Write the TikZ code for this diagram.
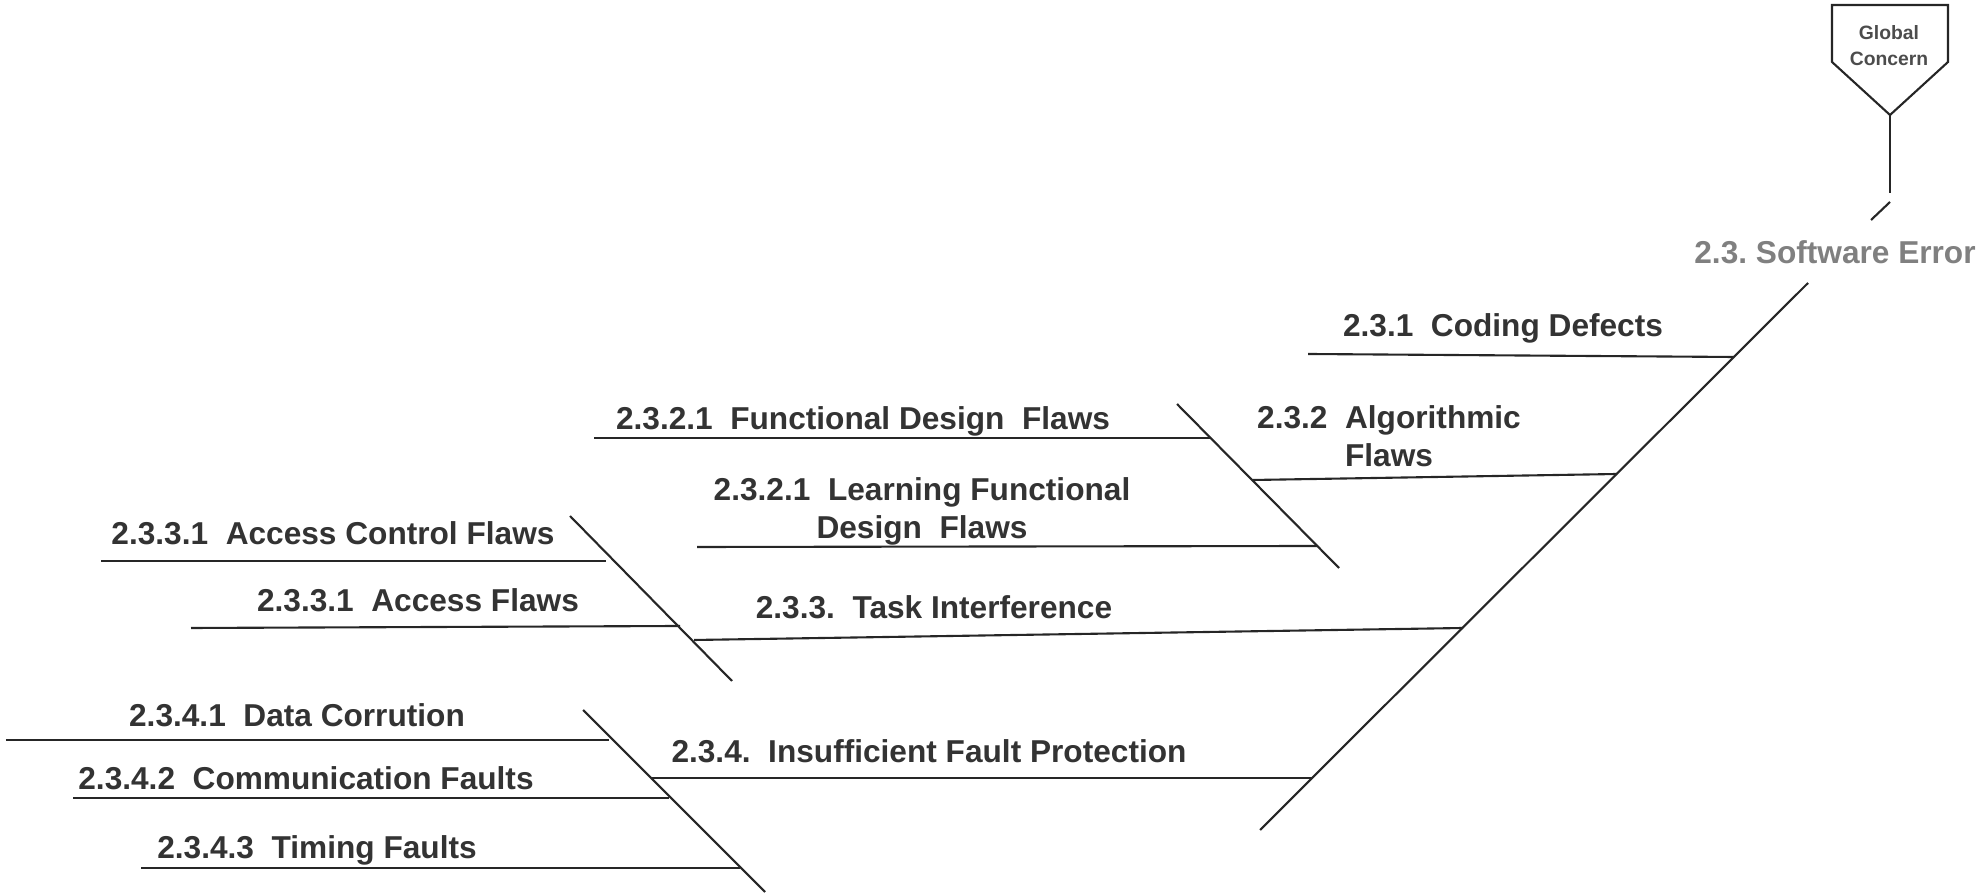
\documentclass[tikz,border=0pt]{standalone}
\usepackage{fontspec}
\setmainfont{Liberation Sans}
\usetikzlibrary{positioning}
\tikzstyle{bone} = [line width=0.6pt, draw=black!85]
\tikzstyle{cause} = [font=\bfseries\fontsize{9}{10.8}\selectfont, text=black!80, align=center, inner sep=0pt]

\begin{document}
\begin{tikzpicture}
		\useasboundingbox (0,0) rectangle (19.80,-8.93);
		% Head and spine
		\coordinate (gctip) at (18.90,-1.15);
		\coordinate (gcstem) at (18.90,-1.93);
		\coordinate (head) at (18.90,-2.02);
		\coordinate (headgap) at (18.71,-2.20);
		\coordinate (spinetop) at (18.08,-2.83);
		\coordinate (spinebot) at (12.60,-8.30);
		% Bones on the spine
		\coordinate (codingL) at (13.08,-3.54);
		\coordinate (codingR) at (17.34,-3.57);
		\coordinate (algoL) at (12.53,-4.80);
		\coordinate (algoR) at (16.17,-4.74);
		\coordinate (taskL) at (6.94,-6.40);
		\coordinate (taskR) at (14.63,-6.28);
		\coordinate (insuffL) at (6.51,-7.78);
		\coordinate (insuffR) at (13.13,-7.78);
		% Sub spines
		\coordinate (algotop) at (11.77,-4.04);
		\coordinate (algobot) at (13.39,-5.68);
		\coordinate (tasktop) at (5.70,-5.16);
		\coordinate (taskbot) at (7.32,-6.81);
		\coordinate (insufftop) at (5.83,-7.10);
		\coordinate (insuffbot) at (7.65,-8.92);
		% Small bones
		\coordinate (funcdesL) at (5.94,-4.38);
		\coordinate (funcdesR) at (12.11,-4.38);
		\coordinate (learnfdL) at (6.97,-5.47);
		\coordinate (learnfdR) at (13.17,-5.46);
		\coordinate (accctrlL) at (1.01,-5.61);
		\coordinate (accctrlR) at (6.06,-5.61);
		\coordinate (accessL) at (1.91,-6.28);
		\coordinate (accessR) at (6.80,-6.26);
		\coordinate (datacorL) at (0.06,-7.40);
		\coordinate (datacorR) at (6.09,-7.40);
		\coordinate (commL) at (0.73,-7.98);
		\coordinate (commR) at (6.69,-7.98);
		\coordinate (timingL) at (1.41,-8.68);
		\coordinate (timingR) at (7.40,-8.68);
		% Global concern
		\draw[bone] (18.32,-0.05) -- (19.48,-0.05) -- (19.48,-0.62) -- (gctip) -- (18.32,-0.62) -- cycle;
		\node[name=gc, font=\bfseries\fontsize{5.5}{7.4}\selectfont, text=black!70, align=center, inner sep=0pt] at (18.89,-0.46) {Global\\Concern};
		\node[name=errlbl, cause, text=black!50, anchor=base] at (18.35,-2.64) {2.3.\ Software Error};
		% Causes
		\begin{scope}[every node/.style={cause, anchor=base}]
		\node[name=coding] at (15.03,-3.37) {2.3.1\ \ Coding Defects};
		\node[name=funcdes] at (8.63,-4.30) {2.3.2.1\ \ Functional Design\ \ Flaws};
		\node[name=task] at (9.34,-6.19) {2.3.3.\ \ Task Interference};
		\node[name=accctrl] at (3.33,-5.45) {2.3.3.1\ \ Access Control Flaws};
		\node[name=access] at (4.18,-6.12) {2.3.3.1\ \ Access Flaws};
		\node[name=insuff] at (9.29,-7.63) {2.3.4.\ \ Insufficient Fault Protection};
		\node[name=datacor] at (2.97,-7.27) {2.3.4.1\ \ Data Corrution};
		\node[name=comm] at (3.06,-7.90) {2.3.4.2\ \ Communication Faults};
		\node[name=timing] at (3.17,-8.59) {2.3.4.3\ \ Timing Faults};
		\end{scope}
		\node[name=algo, cause] at (13.89,-4.36) {2.3.2\ \ Algorithmic\\Flaws};
		\node[name=learnfd, cause] at (9.22,-5.11) {2.3.2.1\ \ Learning Functional\\Design\ \ Flaws};
		% Lines
		\draw[bone] (gctip)--(gcstem);
		\draw[bone] (head)--(headgap);
		\draw[bone] (spinetop)--(spinebot);
		\draw[bone] (codingL)--(codingR);
		\draw[bone] (algoL)--(algoR);
		\draw[bone] (taskL)--(taskR);
		\draw[bone] (insuffL)--(insuffR);
		\draw[bone] (algotop)--(algobot);
		\draw[bone] (tasktop)--(taskbot);
		\draw[bone] (insufftop)--(insuffbot);
		\draw[bone] (funcdesL)--(funcdesR);
		\draw[bone] (learnfdL)--(learnfdR);
		\draw[bone] (accctrlL)--(accctrlR);
		\draw[bone] (accessL)--(accessR);
		\draw[bone] (datacorL)--(datacorR);
		\draw[bone] (commL)--(commR);
		\draw[bone] (timingL)--(timingR);
\end{tikzpicture}
\end{document}
